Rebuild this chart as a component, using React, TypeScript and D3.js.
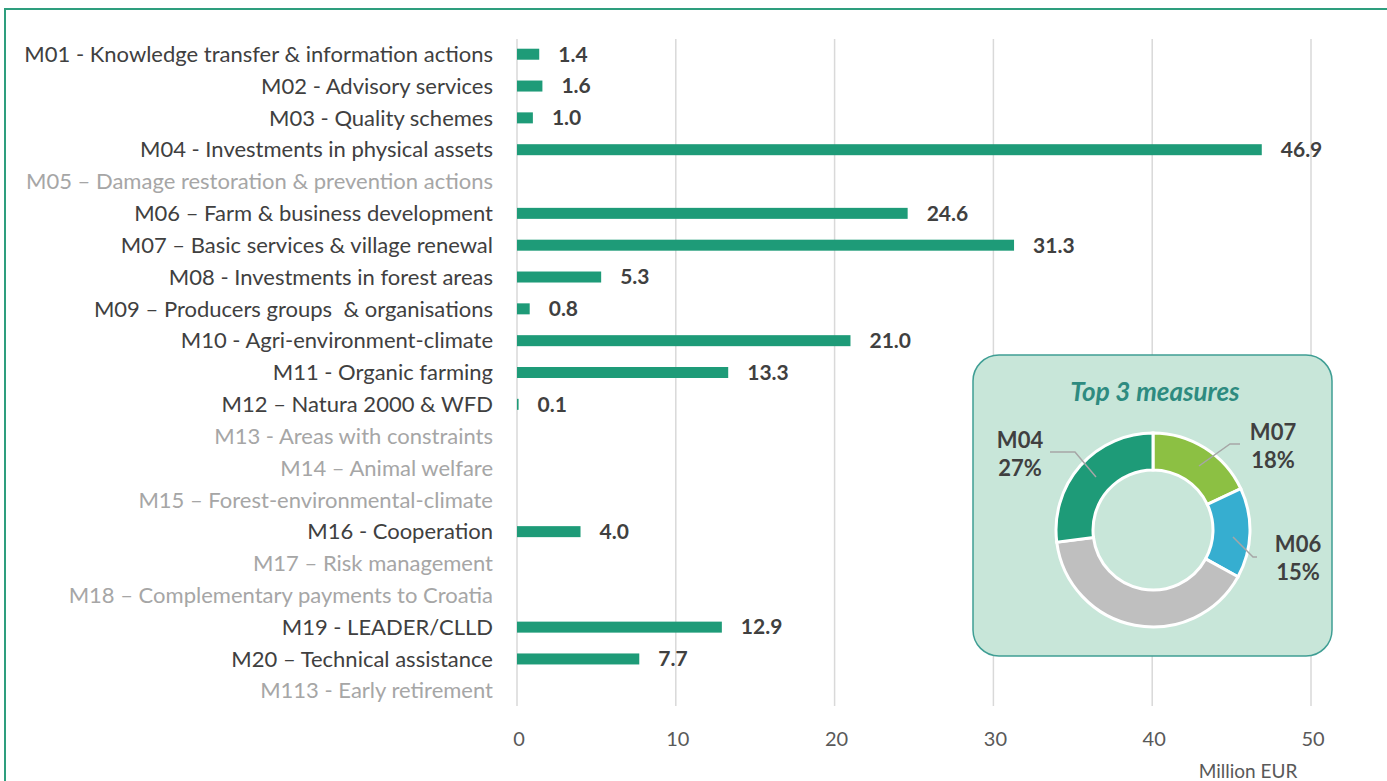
import React, { useEffect, useRef } from 'react';
import * as d3 from 'd3';

// measures and their spend (Million EUR); null = nothing spent, label is greyed out
const measures = [
  'M01 - Knowledge transfer & information actions',
  'M02 - Advisory services',
  'M03 - Quality schemes',
  'M04 - Investments in physical assets',
  'M05 – Damage restoration & prevention actions',
  'M06 – Farm & business development',
  'M07 – Basic services & village renewal',
  'M08 - Investments in forest areas',
  'M09 – Producers groups  & organisations',
  'M10 - Agri-environment-climate',
  'M11 - Organic farming',
  'M12 – Natura 2000 & WFD',
  'M13 - Areas with constraints',
  'M14 – Animal welfare',
  'M15 – Forest-environmental-climate',
  'M16 - Cooperation',
  'M17 – Risk management',
  'M18 – Complementary payments to Croatia',
  'M19 - LEADER/CLLD',
  'M20 – Technical assistance',
  'M113 - Early retirement',
];
const spend: (number | null)[] = [
  1.4, 1.6, 1.0, 46.9, null, 24.6, 31.3, 5.3, 0.8, 21.0, 13.3, 0.1,
  null, null, null, 4.0, null, null, 12.9, 7.7, null,
];
const xTicks = [0, 10, 20, 30, 40, 50];

// inset donut: share of total, clockwise from 12 o'clock
const topCodes = ['M07', 'M06', 'Other', 'M04'];
const topShares = [18, 15, 40, 27];
const topColors = ['#8cc043', '#36aed0', '#bfbfbf', '#1e9b78'];

const W = 1387;
const H = 781;
const FONT = 'Lato, "Open Sans", sans-serif';

const App: React.FC = () => {
  const svgRef = useRef<SVGSVGElement | null>(null);

  useEffect(() => {
    if (!svgRef.current) return;
    const svg = d3.select(svgRef.current);
    svg.selectAll('*').remove();

    // outer frame
    svg.append('rect')
      .attr('x', 5).attr('y', 9)
      .attr('width', W + 20).attr('height', H + 20)
      .attr('fill', 'none')
      .attr('stroke', '#2e9e7e')
      .attr('stroke-width', 2);

    const x = d3.scaleLinear().domain([0, 50]).range([517, 1311]);
    const y = d3.scaleBand<string>().domain(measures).range([38.3, 706.7]);

    // gridlines
    svg.append('g').selectAll('line')
      .data(xTicks)
      .enter().append('line')
      .attr('x1', d => x(d)).attr('x2', d => x(d))
      .attr('y1', 39).attr('y2', 706)
      .attr('stroke', '#d9d9d9')
      .attr('stroke-width', 1.5);

    // tick labels
    svg.append('g').selectAll('text')
      .data(xTicks)
      .enter().append('text')
      .attr('x', d => x(d) + 2)
      .attr('y', 746)
      .attr('text-anchor', 'middle')
      .style('font-family', FONT)
      .style('font-size', '20px')
      .style('fill', '#595959')
      .text(d => d);

    svg.append('text')
      .attr('x', 1248).attr('y', 778)
      .attr('text-anchor', 'middle')
      .style('font-family', FONT)
      .style('font-size', '19px')
      .style('fill', '#595959')
      .text('Million EUR');

    // category labels
    svg.append('g').selectAll('text')
      .data(measures)
      .enter().append('text')
      .attr('x', 493)
      .attr('y', d => (y(d) as number) + y.bandwidth() / 2)
      .attr('dy', '0.35em')
      .attr('text-anchor', 'end')
      .style('font-family', FONT)
      .style('font-size', '22px')
      .style('white-space', 'pre')
      .style('fill', (_d, i) => (spend[i] == null ? '#a6a6a6' : '#404040'))
      .text(d => d);

    const rows = measures.map((m, i) => ({ m, v: spend[i] })).filter(r => r.v != null) as { m: string; v: number }[];
    const barH = 11;

    svg.append('g').selectAll('rect')
      .data(rows)
      .enter().append('rect')
      .attr('x', x(0))
      .attr('y', d => (y(d.m) as number) + y.bandwidth() / 2 - barH / 2)
      .attr('width', d => Math.max(1, x(d.v) - x(0)))
      .attr('height', barH)
      .attr('fill', '#1e9b78');

    svg.append('g').selectAll('text')
      .data(rows)
      .enter().append('text')
      .attr('x', d => x(d.v) + 19)
      .attr('y', d => (y(d.m) as number) + y.bandwidth() / 2)
      .attr('dy', '0.35em')
      .style('font-family', FONT)
      .style('font-size', '21px')
      .style('font-weight', 'bold')
      .style('fill', '#404040')
      .text(d => d.v.toFixed(1));

    // inset box
    const inset = svg.append('g');
    inset.append('rect')
      .attr('x', 973).attr('y', 355)
      .attr('width', 359).attr('height', 301)
      .attr('rx', 26).attr('ry', 26)
      .attr('fill', '#c8e6d9')
      .attr('stroke', '#3f9e94')
      .attr('stroke-width', 1.5);

    inset.append('text')
      .attr('x', 1155).attr('y', 401)
      .attr('text-anchor', 'middle')
      .style('font-family', FONT)
      .style('font-size', '26px')
      .style('font-weight', 'bold')
      .style('font-style', 'italic')
      .style('fill', '#2e8b80')
      .text('Top 3 measures');

    const cx = 1153, cy = 530;
    const pie = d3.pie<number>().sort(null).value(d => d);
    const arc = d3.arc<d3.PieArcDatum<number>>().innerRadius(60).outerRadius(97);
    const donut = inset.append('g').attr('transform', `translate(${cx},${cy})`);
    donut.selectAll('path')
      .data(pie(topShares))
      .enter().append('path')
      .attr('d', arc)
      .attr('fill', (_d, i) => topColors[i])
      .attr('stroke', '#ffffff')
      .attr('stroke-width', 3);

    // leader lines + labels
    const callouts = [
      { i: 0, pts: [[1240, 444], [1230, 444], [1199, 466]], lx: 1273, ly: 432 },
      { i: 1, pts: [[1257, 557], [1253, 557], [1233, 537]], lx: 1298, ly: 544 },
      { i: 3, pts: [[1050, 452], [1075, 452], [1096, 477]], lx: 1020, ly: 440 },
    ];
    const line = d3.line();
    callouts.forEach(c => {
      inset.append('path')
        .attr('d', line(c.pts as [number, number][]))
        .attr('fill', 'none')
        .attr('stroke', '#a6a6a6')
        .attr('stroke-width', 1.5);
      const t = inset.append('text')
        .attr('text-anchor', 'middle')
        .style('font-family', FONT)
        .style('font-size', '22px')
        .style('font-weight', 'bold')
        .style('fill', '#404040');
      t.append('tspan').attr('x', c.lx).attr('y', c.ly + 8).text(topCodes[c.i]);
      t.append('tspan').attr('x', c.lx).attr('y', c.ly + 36).text(`${topShares[c.i]}%`);
    });
  }, []);

  return (
    <svg
      ref={svgRef}
      width={W}
      height={H}
      style={{ position: 'absolute', left: 0, top: 0, background: '#ffffff' }}
    />
  );
};

export default App;
